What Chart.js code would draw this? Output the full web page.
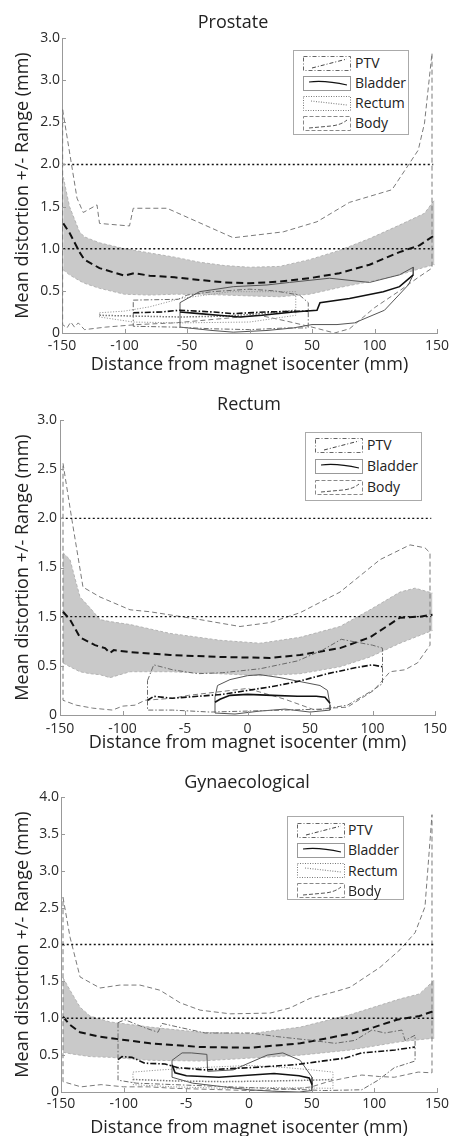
<!DOCTYPE html>
<html><head><meta charset="utf-8">
<script src="https://cdn.jsdelivr.net/npm/chart.js@4.4.1/dist/chart.umd.min.js"></script>
<style>
html,body{margin:0;padding:0;background:#fff;overflow:hidden;width:453px;height:1136px;position:relative;}
canvas{position:absolute;left:0;}
.leg{position:absolute;border:1px solid #aaa;background:#fff;box-sizing:border-box;}
</style></head><body>
<canvas id="c1" width="480" height="376" style="top:0px"></canvas>
<canvas id="c2" width="520" height="374" style="top:380px"></canvas>
<canvas id="c3" width="520" height="379" style="top:760px"></canvas>
<script>
// ---------- shared tick labels ----------
const xTickVals = [-150, -100, -50, 0, 50, 100, 150];
const p1XLabels = ['-150', '-100', '-50', '0', '50', '100', '150'];
const p2XLabels = ['-150', '-100', '-5', '0', '50', '100', '150'];
const p3XLabels = ['-150', '-100', '-5', '0', '50', '100', '150'];
const p1YVals = [0, 0.5, 1, 1.5, 2, 2.5, 3, 3.5];
const p1YLabels = ['0', '0.5', '1.0', '1.5', '2.0', '2.5', '3.0', '3.0'];
const p2YVals = [0, 0.5, 1, 1.5, 2, 2.5, 3];
const p2YLabels = ['0', '0.5', '1.5', '1.5', '2.0', '2.5', '3.0'];
const p3YVals = [0, 0.5, 1, 1.5, 2, 2.5, 3, 3.5, 4];
const p3YLabels = ['0', '0.5', '1.0', '1.5', '2.0', '2.5', '3.0', '3.5', '4.0'];
const thrX = [-149, 147];
const thrLevels = [1.0, 2.0];

// ---------- Panel 1: Prostate ----------
const p1BandX  = [-149, -144, -136, -132, -120, -100, -80, -60, -40, -20, 0, 24, 48, 72, 96, 120, 140, 148];
const p1BandUp = [1.85, 1.50, 1.20, 1.14, 1.07, 1.00, 0.95, 0.90, 0.84, 0.80, 0.78, 0.79, 0.87, 0.98, 1.12, 1.28, 1.42, 1.58];
const p1BandLo = [0.75, 0.69, 0.62, 0.59, 0.53, 0.46, 0.45, 0.46, 0.46, 0.45, 0.44, 0.43, 0.46, 0.54, 0.61, 0.69, 0.78, 0.81];
const p1MeanX = [-149, -144, -136, -132, -120, -100, -92, -80, -60, -40, -20, 0, 24, 48, 72, 96, 120, 136, 148];
const p1MeanY = [1.30, 1.19, 0.96, 0.87, 0.77, 0.68, 0.71, 0.68, 0.66, 0.63, 0.60, 0.59, 0.61, 0.65, 0.71, 0.81, 0.96, 1.04, 1.16];
const p1MaxX = [-149.5, -138, -133, -122, -120, -96, -93, -66, -13, 27, 54, 80, 114, 135, 140, 146];
const p1MaxY = [2.65, 1.60, 1.43, 1.52, 1.30, 1.27, 1.48, 1.48, 1.13, 1.20, 1.32, 1.55, 1.70, 2.17, 2.49, 3.32];
const p1MinX = [-149.5, -146, -143, -140, -137, -132, -115, -90, -60, -30, 8, 30, 50, 68, 80, 100, 120, 135, 146];
const p1MinY = [0.10, 0.06, 0.13, 0.07, 0.12, 0.04, 0.07, 0.10, 0.12, 0.16, 0.21, 0.14, 0.07, 0.00, 0.05, 0.30, 0.50, 0.66, 0.77];
const p1PtvUpX = [-93, -57, -50, -30, 0, 20, 40, 47];
const p1PtvUpY = [0.39, 0.40, 0.45, 0.49, 0.52, 0.50, 0.45, 0.36];
const p1PtvLoX = [-93, -60, -30, 0, 30, 47];
const p1PtvLoY = [0.08, 0.07, 0.05, 0.04, 0.06, 0.06];
const p1PtvMeanX = [-93, -70, -56, -30, -13, 14, 47];
const p1PtvMeanY = [0.24, 0.25, 0.27, 0.25, 0.23, 0.25, 0.26];
const p1BladUpX = [-55.6, -40, -13, 14, 32, 64, 96, 120, 131];
const p1BladUpY = [0.36, 0.49, 0.55, 0.57, 0.60, 0.65, 0.60, 0.69, 0.78];
const p1BladLoX = [-55.6, -30, -13, 14, 35, 50, 70, 84, 108, 127, 131];
const p1BladLoY = [0.07, 0.03, 0.01, 0.03, 0.06, 0.10, 0.10, 0.12, 0.27, 0.57, 0.69];
const p1BladMeanX = [-55.6, -40, -25, -7.6, 10, 35, 54, 56.4, 80, 107, 120, 131];
const p1BladMeanY = [0.25, 0.23, 0.21, 0.19, 0.21, 0.25, 0.27, 0.36, 0.41, 0.49, 0.55, 0.69];
const p1RecUpX = [-120, -100, -80, -55, -15, 20, 37];
const p1RecUpY = [0.24, 0.26, 0.31, 0.41, 0.49, 0.49, 0.49];
const p1RecLoX = [-120, -93, -55, 0, 37];
const p1RecLoY = [0.19, 0.13, 0.12, 0.13, 0.21];
const p1RecMeanX = [-120, -90, -55, -20, 10, 37];
const p1RecMeanY = [0.21, 0.20, 0.19, 0.20, 0.23, 0.27];

// ---------- Panel 2: Rectum ----------
const p2BandX  = [-147.6, -142, -134, -126, -118, -110, -94, -62, -22, 10, 42, 74, 98, 122, 134, 148];
const p2BandUp = [1.65, 1.58, 1.20, 1.09, 0.97, 0.95, 0.92, 0.83, 0.76, 0.73, 0.79, 0.90, 1.07, 1.25, 1.29, 1.24];
const p2BandLo = [0.53, 0.49, 0.44, 0.42, 0.41, 0.38, 0.44, 0.44, 0.42, 0.40, 0.42, 0.49, 0.59, 0.73, 0.79, 0.86];
const p2MeanX = [-147.6, -142, -134, -122, -114, -110, -107, -94, -62, -22, 18, 42, 74, 98, 122, 138, 148];
const p2MeanY = [1.05, 0.97, 0.79, 0.71, 0.68, 0.63, 0.66, 0.64, 0.61, 0.59, 0.58, 0.61, 0.68, 0.79, 0.99, 1.00, 1.02];
const p2MaxX = [-147.6, -140.4, -131.6, -118, -94, -78, -38, -6, 18, 42, 74, 106, 130, 142, 146];
const p2MaxY = [2.56, 1.98, 1.30, 1.20, 1.07, 1.05, 0.97, 0.90, 0.94, 1.04, 1.25, 1.58, 1.73, 1.70, 1.65];
const p2MinX = [-147.6, -137, -124, -108, -100, -90, -82, -60, -47, -20, 0, 30, 54, 67, 80, 101, 114, 126, 136, 146];
const p2MinY = [0.15, 0.10, 0.07, 0.05, 0.09, 0.10, 0.15, 0.17, 0.20, 0.24, 0.27, 0.16, 0.05, 0.07, 0.08, 0.25, 0.44, 0.46, 0.53, 0.71];
const p2PtvUpX = [-80, -75, -60, -40, -20, 10, 40, 60, 75, 100, 108];
const p2PtvUpY = [0.35, 0.51, 0.46, 0.42, 0.43, 0.47, 0.55, 0.66, 0.77, 0.71, 0.68];
const p2PtvLoX = [-80, -60, -30, 0, 30, 60, 80, 100, 108];
const p2PtvLoY = [0.05, 0.05, 0.03, 0.04, 0.05, 0.06, 0.10, 0.25, 0.32];
const p2PtvMeanX = [-80, -75, -60, -40, -20, 0, 20, 40, 64, 86, 100, 108];
const p2PtvMeanY = [0.15, 0.19, 0.17, 0.19, 0.21, 0.25, 0.29, 0.34, 0.42, 0.48, 0.51, 0.49];
const p2BladUpX = [-26, -24, -14, 0, 10, 26, 42, 58, 64, 66];
const p2BladUpY = [0.18, 0.30, 0.36, 0.40, 0.41, 0.38, 0.34, 0.30, 0.25, 0.10];
const p2BladLoX = [-26, -10, 10, 30, 50, 66];
const p2BladLoY = [0.02, 0.01, 0.04, 0.06, 0.03, 0.05];
const p2BladMeanX = [-26, -22, -14, 0, 20, 40, 55, 62, 66];
const p2BladMeanY = [0.13, 0.16, 0.20, 0.21, 0.20, 0.19, 0.19, 0.18, 0.12];

// ---------- Panel 3: Gynaecological ----------
const p3BandX  = [-148.4, -142.8, -134.8, -126.9, -110.9, -79, -39, 1, 41, 81, 120, 136, 148];
const p3BandUp = [1.55, 1.38, 1.15, 1.03, 0.95, 0.88, 0.81, 0.79, 0.88, 1.05, 1.26, 1.33, 1.52];
const p3BandLo = [0.54, 0.52, 0.50, 0.48, 0.47, 0.43, 0.42, 0.46, 0.50, 0.57, 0.68, 0.71, 0.73];
const p3MeanX = [-148.4, -142.8, -134.8, -119, -79, -39, 1, 41, 81, 100, 118, 136, 148];
const p3MeanY = [1.02, 0.91, 0.81, 0.75, 0.66, 0.61, 0.60, 0.66, 0.79, 0.88, 0.98, 1.03, 1.10];
const p3MaxX = [-148.4, -142.8, -134.8, -118.9, -103, -87, -71, -55, -39, -15, 16.8, 32.7, 48.7, 68.6, 80.6, 104.5, 120.5, 132.5, 140.4, 146];
const p3MaxY = [2.64, 2.10, 1.56, 1.41, 1.45, 1.45, 1.38, 1.21, 1.11, 1.06, 1.07, 1.14, 1.27, 1.36, 1.42, 1.69, 1.93, 2.16, 2.51, 3.76];
const p3MinX = [-148.4, -134, -118, -100, -80, -60, -40, -20, 0, 20, 40, 50, 63, 77, 90, 104, 116, 135, 146];
const p3MinY = [0.14, 0.07, 0.10, 0.07, 0.07, 0.05, 0.04, 0.03, 0.02, 0.03, 0.05, 0.07, 0.14, 0.19, 0.23, 0.21, 0.20, 0.27, 0.26];
const p3PtvUpX = [-104.5, -99, -83, -72.6, -69.4, -59, -35, 1, 23, 50, 68.6, 84.6, 98, 108.5, 122, 124.5, 132.5];
const p3PtvUpY = [0.94, 0.98, 0.87, 0.81, 0.93, 0.89, 0.80, 0.80, 0.75, 0.70, 0.66, 0.70, 0.84, 0.80, 0.84, 0.70, 0.77];
const p3PtvLoX = [-104.5, -90, -60, -30, 0, 30, 60, 90, 103, 116, 132.5];
const p3PtvLoY = [0.16, 0.12, 0.10, 0.08, 0.06, 0.04, 0.02, 0.03, 0.16, 0.33, 0.42];
const p3PtvMeanX = [-104.5, -101.3, -93.4, -83, -67, -56.6, -35, 1, 36.7, 76.6, 90, 116.5, 132.5];
const p3PtvMeanY = [0.44, 0.48, 0.47, 0.39, 0.38, 0.33, 0.30, 0.33, 0.37, 0.46, 0.53, 0.57, 0.61];
const p3BladUpX = [-61.4, -53.4, -46, -33.6, -33, -12.6, 14.5, 27, 40.8, 50.3];
const p3BladUpY = [0.43, 0.53, 0.53, 0.51, 0.28, 0.30, 0.50, 0.53, 0.43, 0.20];
const p3BladLoX = [-61.4, -45, -20, 0, 20, 40, 50.3];
const p3BladLoY = [0.20, 0.12, 0.07, 0.03, 0.01, 0.00, 0.02];
const p3BladMeanX = [-61.4, -59, -50, -24, 2, 20, 40, 48, 50.3];
const p3BladMeanY = [0.37, 0.26, 0.22, 0.20, 0.23, 0.25, 0.22, 0.19, 0.10];
const p3RecUpX = [-92.6, -70, -40, 0, 30, 50, 67];
const p3RecUpY = [0.27, 0.30, 0.33, 0.36, 0.33, 0.30, 0.27];
const p3RecLoX = [-92.6, -60, -20, 20, 67];
const p3RecLoY = [0.10, 0.07, 0.05, 0.06, 0.05];
const p3RecMeanX = [-92.6, -60, -20, 20, 50, 67];
const p3RecMeanY = [0.17, 0.15, 0.14, 0.15, 0.16, 0.17];

const p1LegendLabels = ['PTV', 'Bladder', 'Rectum', 'Body'];
const p2LegendLabels = ['PTV', 'Bladder', 'Body'];
const p3LegendLabels = ['PTV', 'Bladder', 'Rectum', 'Body'];

const xTitle = 'Distance from magnet isocenter (mm)';
const yTitle = 'Mean distortion +/- Range (mm)';

// ---------- helpers ----------
const FONT = "'Open Sans', sans-serif";
Chart.defaults.font.family = FONT;
Chart.defaults.color = '#2a2a2a';

function pts(xs, ys) { return xs.map((x, i) => ({ x: x, y: ys[i] })); }
function poly(ux, uy, lx, ly) {
  const a = pts(ux, uy), b = pts(lx, ly).reverse();
  return a.concat(b, [a[0]]);
}
const ST = {
  thr:       { borderColor: '#111', borderWidth: 1.4, borderDash: [2, 2.5] },
  bodyMean:  { borderColor: '#111', borderWidth: 2, borderDash: [7, 4] },
  bodyRange: { borderColor: '#7a7a7a', borderWidth: 1, borderDash: [5, 3] },
  bandEdge:  { borderColor: '#b4b4b4', borderWidth: 1, borderDash: [3, 2] },
  ptvMean:   { borderColor: '#111', borderWidth: 1.6, borderDash: [6, 2, 1.5, 2] },
  ptvRange:  { borderColor: '#6a6a6a', borderWidth: 1, borderDash: [5, 2, 1.5, 2] },
  bladMean:  { borderColor: '#111', borderWidth: 1.6 },
  bladRange: { borderColor: '#555', borderWidth: 1 },
  recMean:   { borderColor: '#7a7a7a', borderWidth: 1.5, borderDash: [1.5, 1.5] },
  recRange:  { borderColor: '#9a9a9a', borderWidth: 1, borderDash: [1.2, 1.5] }
};
function ds(data, style, extra) {
  return Object.assign({ data: data, fill: false, pointRadius: 0, tension: 0 }, style, extra || {});
}

function buildDatasets(P) {
  const out = [];
  thrLevels.forEach(l => out.push(ds(pts(thrX, [l, l]), ST.thr)));
  if (P.ptv) out.push(ds(pts(P.ptv.mx, P.ptv.my), ST.ptvMean));
  if (P.blad) out.push(ds(pts(P.blad.mx, P.blad.my), ST.bladMean));
  if (P.rec) out.push(ds(pts(P.rec.mx, P.rec.my), ST.recMean));
  if (P.ptv) out.push(ds(poly(P.ptv.ux, P.ptv.uy, P.ptv.lx, P.ptv.ly), ST.ptvRange));
  if (P.blad) out.push(ds(poly(P.blad.ux, P.blad.uy, P.blad.lx, P.blad.ly), ST.bladRange));
  if (P.rec) out.push(ds(poly(P.rec.ux, P.rec.uy, P.rec.lx, P.rec.ly), ST.recRange));
  out.push(ds(pts(P.meanX, P.meanY), ST.bodyMean));
  out.push(ds(poly(P.maxX, P.maxY, P.minX, P.minY), ST.bodyRange));
  out.push(ds(pts(P.bandX, P.bandUp), ST.bandEdge, { fill: '+1', backgroundColor: '#c9c9c9' }));
  out.push(ds(pts(P.bandX, P.bandLo), ST.bandEdge));
  return out;
}

const innerTicks = {
  id: 'innerTicks',
  afterDraw(chart) {
    const { ctx, chartArea: a } = chart;
    const x = chart.scales.x, y = chart.scales.y;
    ctx.save();
    ctx.strokeStyle = '#999';
    ctx.lineWidth = 1;
    ctx.beginPath();
    x.ticks.forEach(t => { const p = Math.round(x.getPixelForValue(t.value)) + 0.5; ctx.moveTo(p, a.bottom); ctx.lineTo(p, a.bottom - 4); });
    y.ticks.forEach(t => { const p = Math.round(y.getPixelForValue(t.value)) + 0.5; ctx.moveTo(a.left, p); ctx.lineTo(a.left + 4, p); });
    ctx.stroke();
    ctx.restore();
  }
};

function makeChart(id, P) {
  return new Chart(document.getElementById(id), {
    type: 'line',
    data: { datasets: buildDatasets(P) },
    options: {
      responsive: false, animation: false, events: [],
      layout: { padding: { left: 0, right: P.padRight, top: 0, bottom: 0 } },
      elements: { point: { radius: 0 }, line: { tension: 0 } },
      plugins: {
        legend: { display: false }, tooltip: { enabled: false },
        filler: { drawTime: 'beforeDatasetsDraw' },
        title: { display: true, text: P.title, color: '#222', font: { size: 18, weight: 'normal' },
                 padding: { top: P.titleTop, bottom: P.titleBottom } }
      },
      scales: {
        x: {
          type: 'linear', position: 'bottom', min: -150, max: 150,
          afterBuildTicks: s => { s.ticks = xTickVals.map(v => ({ value: v })); },
          ticks: { callback: (v, i) => P.xLabels[i], padding: P.xTickPad, font: { size: 14 }, color: '#2a2a2a', maxRotation: 0, autoSkip: false },
          grid: { display: false, drawTicks: false },
          border: { display: true, color: '#999' },
          title: { display: true, text: xTitle, color: '#222', font: { size: 18 }, padding: { top: 0, bottom: 0 } },
          afterFit: s => { s.height = P.xHeight; }
        },
        y: {
          type: 'linear', position: 'left', min: 0, max: P.yMax,
          afterBuildTicks: s => { s.ticks = P.yVals.map(v => ({ value: v })); },
          ticks: { callback: (v, i) => P.yLabels[i], padding: P.yTickPad, font: { size: 14 }, color: '#2a2a2a', autoSkip: false },
          grid: { display: false, drawTicks: false },
          border: { display: true, color: '#999' },
          title: { display: true, text: yTitle, color: '#222', font: { size: 18 }, padding: { top: 11.7, bottom: 0 } },
          afterFit: s => { s.width = P.yWidth; }
        },
        y2: {
          type: 'linear', position: 'right', display: true,
          grid: { display: false, drawTicks: false }, border: { display: false },
          ticks: { display: false },
          afterFit: s => { s.width = P.y2Width; }
        }
      }
    },
    plugins: [innerTicks]
  });
}

makeChart('c1', {
  title: 'Prostate', titleTop: 12.2, titleBottom: 4.2, padRight: 14, y2Width: 29, yWidth: 62,
  xHeight: 43, xTickPad: 4.5, yTickPad: 2, yMax: 3.5, yVals: p1YVals, yLabels: p1YLabels, xLabels: p1XLabels,
  bandX: p1BandX, bandUp: p1BandUp, bandLo: p1BandLo, meanX: p1MeanX, meanY: p1MeanY,
  maxX: p1MaxX, maxY: p1MaxY, minX: p1MinX, minY: p1MinY,
  ptv: { ux: p1PtvUpX, uy: p1PtvUpY, lx: p1PtvLoX, ly: p1PtvLoY, mx: p1PtvMeanX, my: p1PtvMeanY },
  blad: { ux: p1BladUpX, uy: p1BladUpY, lx: p1BladLoX, ly: p1BladLoY, mx: p1BladMeanX, my: p1BladMeanY },
  rec: { ux: p1RecUpX, uy: p1RecUpY, lx: p1RecLoX, ly: p1RecLoY, mx: p1RecMeanX, my: p1RecMeanY }
});
makeChart('c2', {
  title: 'Rectum', titleTop: 14.2, titleBottom: 4.2, padRight: 22, y2Width: 63, yWidth: 60,
  xHeight: 39, xTickPad: 5.5, yTickPad: 3, yMax: 3, yVals: p2YVals, yLabels: p2YLabels, xLabels: p2XLabels,
  bandX: p2BandX, bandUp: p2BandUp, bandLo: p2BandLo, meanX: p2MeanX, meanY: p2MeanY,
  maxX: p2MaxX, maxY: p2MaxY, minX: p2MinX, minY: p2MinY,
  ptv: { ux: p2PtvUpX, uy: p2PtvUpY, lx: p2PtvLoX, ly: p2PtvLoY, mx: p2PtvMeanX, my: p2PtvMeanY },
  blad: { ux: p2BladUpX, uy: p2BladUpY, lx: p2BladLoX, ly: p2BladLoY, mx: p2BladMeanX, my: p2BladMeanY }
});
makeChart('c3', {
  title: 'Gynaecological', titleTop: 12.2, titleBottom: 3.2, padRight: 26, y2Width: 57, yWidth: 61,
  xHeight: 47, xTickPad: 3.5, yTickPad: 2, yMax: 4, yVals: p3YVals, yLabels: p3YLabels, xLabels: p3XLabels,
  bandX: p3BandX, bandUp: p3BandUp, bandLo: p3BandLo, meanX: p3MeanX, meanY: p3MeanY,
  maxX: p3MaxX, maxY: p3MaxY, minX: p3MinX, minY: p3MinY,
  ptv: { ux: p3PtvUpX, uy: p3PtvUpY, lx: p3PtvLoX, ly: p3PtvLoY, mx: p3PtvMeanX, my: p3PtvMeanY },
  blad: { ux: p3BladUpX, uy: p3BladUpY, lx: p3BladLoX, ly: p3BladLoY, mx: p3BladMeanX, my: p3BladMeanY },
  rec: { ux: p3RecUpX, uy: p3RecUpY, lx: p3RecLoX, ly: p3RecLoY, mx: p3RecMeanX, my: p3RecMeanY }
});

// ---------- legends (HTML) ----------
const sampleSvg = {
  PTV: '<svg width="48" height="15"><rect x="0.5" y="0.5" width="47" height="14" fill="none" stroke="#666" stroke-dasharray="4,2,1,2"/><path d="M9 12 L44 3" stroke="#444" fill="none" stroke-dasharray="4,2,1,2"/></svg>',
  Bladder: '<svg width="48" height="15"><rect x="0.5" y="0.5" width="47" height="14" fill="none" stroke="#999"/><path d="M6 6 Q22 4 44 9" stroke="#111" stroke-width="1.2" fill="none"/></svg>',
  Rectum: '<svg width="48" height="15"><rect x="0.5" y="0.5" width="47" height="14" fill="none" stroke="#777" stroke-dasharray="1,1.5"/><path d="M8 5 Q26 7 44 9" stroke="#888" stroke-width="1.2" fill="none" stroke-dasharray="1,1.5"/></svg>',
  Body: '<svg width="48" height="15"><rect x="0.5" y="0.5" width="47" height="14" fill="none" stroke="#888" stroke-dasharray="4,2"/><path d="M6 12 L28 10 Q38 9 44 4" stroke="#555" fill="none" stroke-dasharray="4,2"/></svg>'
};
function addLegend(labels, box) {
  const d = document.createElement('div');
  d.className = 'leg';
  d.style.left = box.left + 'px'; d.style.top = box.top + 'px';
  d.style.width = box.width + 'px'; d.style.height = box.height + 'px';
  labels.forEach((lab, i) => {
    const cy = box.firstRow + i * box.step - box.top - 1;
    const s = document.createElement('div');
    s.style.cssText = 'position:absolute;left:' + box.sampleLeft + 'px;top:' + (cy - 7.5) + 'px;width:48px;height:15px;line-height:0';
    s.innerHTML = sampleSvg[lab];
    const t = document.createElement('div');
    t.textContent = lab;
    t.style.cssText = "position:absolute;left:" + box.textLeft + "px;top:" + (cy - 10) + "px;font:14px 'Open Sans',sans-serif;line-height:20px;color:#222;white-space:nowrap";
    d.appendChild(s); d.appendChild(t);
  });
  document.body.appendChild(d);
}
addLegend(p1LegendLabels, { left: 293, top: 50, width: 116, height: 85, firstRow: 63, step: 20, sampleLeft: 9, textLeft: 61 });
addLegend(p2LegendLabels, { left: 305, top: 432, width: 117, height: 69, firstRow: 445, step: 21, sampleLeft: 9, textLeft: 61 });
addLegend(p3LegendLabels, { left: 287, top: 816, width: 117, height: 84, firstRow: 830, step: 20.3, sampleLeft: 9, textLeft: 60 });
</script>
</body></html>
